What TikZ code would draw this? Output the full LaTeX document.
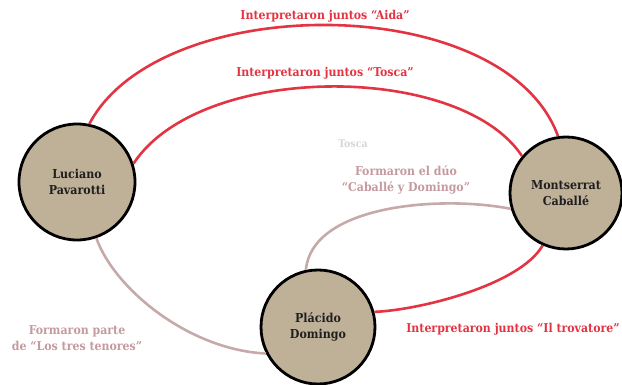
\documentclass[tikz,border=0pt]{standalone}
\usepackage{fontspec}
\setmainfont{DejaVu Serif}
\newfontfamily\condfont{DejaVu Serif Condensed}
\definecolor{redline}{RGB}{226,52,66}
\definecolor{pinkline}{RGB}{198,170,170}
\definecolor{pinktext}{RGB}{196,154,158}
\definecolor{tan}{RGB}{191,176,152}
\definecolor{ghost}{RGB}{214,214,214}
\begin{document}
\begin{tikzpicture}[x=1pt,y=-1pt,
  person/.style={circle,draw=black,line width=2.8pt,fill=tan,align=center,
    font=\condfont\bfseries\fontsize{12.3}{16.5}\selectfont,text=black!88},
  redlink/.style={draw=redline,line width=2.6pt},
  pinklink/.style={draw=pinkline,line width=2.6pt},
  redlabel/.style={text=redline,font=\condfont\bfseries\fontsize{12.2}{14}\selectfont},
  pinklabel/.style={text=pinktext,align=center,font=\condfont\bfseries\fontsize{12.2}{16.5}\selectfont},
  ghostlabel/.style={text=ghost,font=\condfont\bfseries\fontsize{10.5}{12}\selectfont}]
\useasboundingbox (0,0) rectangle (622,385);
\node[person,minimum size=116pt] (P) at (77,182) {Luciano\\Pavarotti};
\node[person,minimum size=114pt] (D) at (318,327) {Plácido\\Domingo};
\node[person,minimum size=112pt] (M) at (566,193) {Montserrat\\Caballé};
\draw[redlink] (P.78) .. controls (160,-10) and (505,-10) .. (M.98);
\draw[redlink] (P.18) .. controls (200,62) and (460,62) .. (M.140);
\draw[pinklink] (D.102) .. controls (312,205) and (440,195) .. (M.196);
\draw[pinklink] (P.-71) .. controls (115,290) and (190,350) .. (D.207);
\draw[redlink] (D.15) .. controls (420,310) and (520,285) .. (M.246);
\node[redlabel] (laida) at (325,16) {Interpretaron juntos “Aida”};
\node[redlabel] (ltosca) at (325,73) {Interpretaron juntos “Tosca”};
\node[ghostlabel] (lghost) at (353,144) {Tosca};
\node[pinklabel] (lduo) at (406,180) {Formaron el dúo\\“Caballé y Domingo”};
\node[pinklabel] (ltenores) at (77,338) {Formaron parte\\de “Los tres tenores”};
\node[redlabel] (ltrov) at (513,329) {Interpretaron juntos “Il trovatore”};
\end{tikzpicture}
\end{document}
